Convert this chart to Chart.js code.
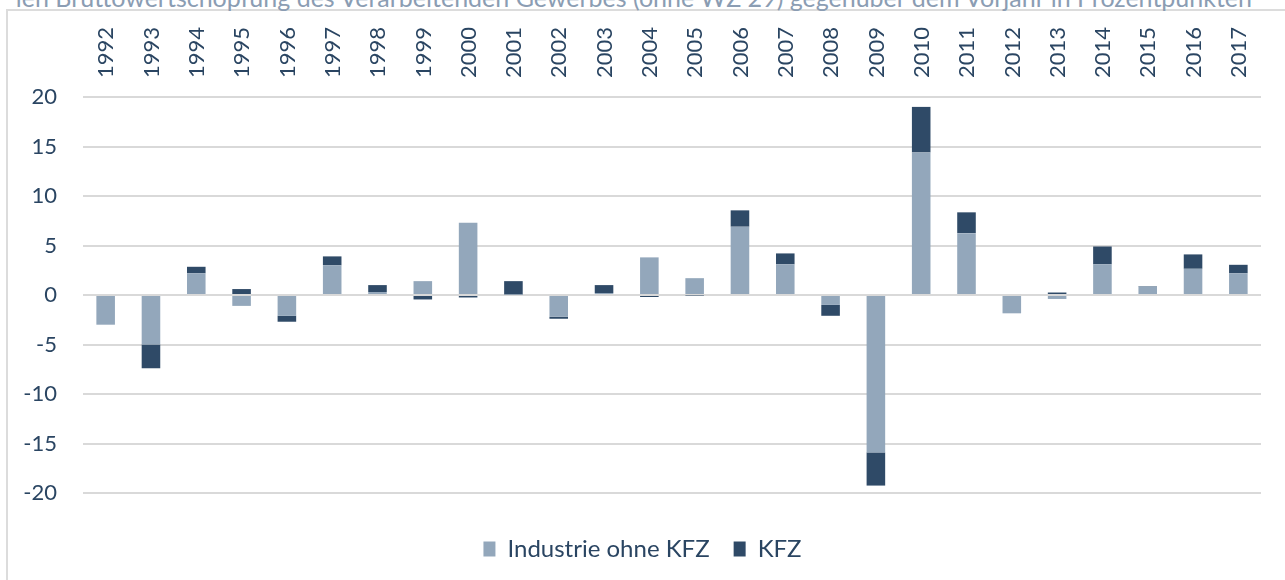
<!DOCTYPE html>
<html lang="de">
<head>
    <meta charset="UTF-8">
    <title>Industrie ohne KFZ / KFZ</title>
    <script src="https://cdn.jsdelivr.net/npm/chart.js"></script>
    <style>
        html, body { margin: 0; padding: 0; background: #fff; overflow: hidden; }
        .frame {
            position: absolute; left: 6px; top: 9px; width: 1300px; height: 600px;
            border-left: 2px solid #dcdcdc; border-top: 2px solid #dcdcdc;
        }
        .title {
            position: absolute; right: 33px; top: -15px; white-space: nowrap;
            font: 25px Lato, sans-serif; line-height: 25px; color: #8b9db3;
        }
        .chart-box { position: absolute; left: 0; top: 0; width: 1285px; height: 580px; }
    </style>
</head>
<body>
    <div class="frame"></div>
    <div class="title">len Bruttowertschöpfung des Verarbeitenden Gewerbes (ohne WZ 29) gegenüber dem Vorjahr in Prozentpunkten</div>
    <div class="chart-box"><canvas id="chart"></canvas></div>
</body>
</html>
<script>
// Beiträge in Prozentpunkten
const years = ['1992','1993','1994','1995','1996','1997','1998','1999','2000','2001','2002','2003','2004',
               '2005','2006','2007','2008','2009','2010','2011','2012','2013','2014','2015','2016','2017'];
const industrieOhneKfz = [-3.0, -5.0, 2.2, -1.1, -2.1, 3.0, 0.3, 1.4, 7.3, 0.05, -2.2, 0.2, 3.8,
                          1.7, 6.9, 3.1, -1.0, -15.9, 14.4, 6.25, -1.85, -0.4, 3.1, 0.85, 2.65, 2.2];
const kfz = [0, -2.4, 0.65, 0.6, -0.6, 0.9, 0.7, -0.45, -0.25, 1.35, -0.2, 0.8, -0.2,
             -0.05, 1.65, 1.1, -1.1, -3.35, 4.6, 2.1, 0, 0.25, 1.8, 0.05, 1.45, 0.85];

const textColor = '#2a4562';
const font = { family: 'Lato, sans-serif', size: 22 };

new Chart(document.getElementById('chart').getContext('2d'), {
    type: 'bar',
    data: {
        labels: years,
        datasets: [{
            label: 'Industrie ohne KFZ',
            data: industrieOhneKfz,
            backgroundColor: '#93a7bb'
        }, {
            label: 'KFZ',
            data: kfz,
            backgroundColor: '#2f4a67'
        }]
    },
    options: {
        responsive: true,
        maintainAspectRatio: false,
        animation: false,
        layout: { padding: { top: 0, right: 0, bottom: 9, left: 0 } },
        datasets: { bar: { categoryPercentage: 1, barPercentage: 0.41 } },
        plugins: {
            tooltip: { enabled: false },
            legend: {
                position: 'bottom',
                labels: { color: textColor, font: { family: 'Lato, sans-serif', size: 24 },
                          boxWidth: 12, boxHeight: 15, padding: 24 }
            }
        },
        scales: {
            x: {
                position: 'top',
                stacked: true,
                grid: { display: false, drawTicks: false },
                border: { display: false },
                ticks: { color: textColor, font: font, minRotation: 90, maxRotation: 90,
                         padding: 19, labelOffset: 27 },
                afterFit: scale => { scale.height = 97; }
            },
            // leerer Abstand zwischen Diagramm und Legende
            xGap: {
                position: 'bottom',
                grid: { display: false, drawTicks: false },
                border: { display: false },
                ticks: { display: false },
                afterFit: scale => { scale.height = 20; }
            },
            y: {
                stacked: true,
                min: -20,
                max: 20,
                grid: { color: '#d9d9d9', lineWidth: 2, drawTicks: false },
                border: { display: false },
                ticks: { stepSize: 5, color: textColor, font: font, padding: 26 },
                afterFit: scale => { scale.width = 83; }
            },
            // rechter Rand
            yGap: {
                type: 'linear',
                position: 'right',
                grid: { display: false, drawTicks: false },
                border: { display: false },
                ticks: { display: false },
                afterFit: scale => { scale.width = 24; }
            }
        }
    }
});
</script>
